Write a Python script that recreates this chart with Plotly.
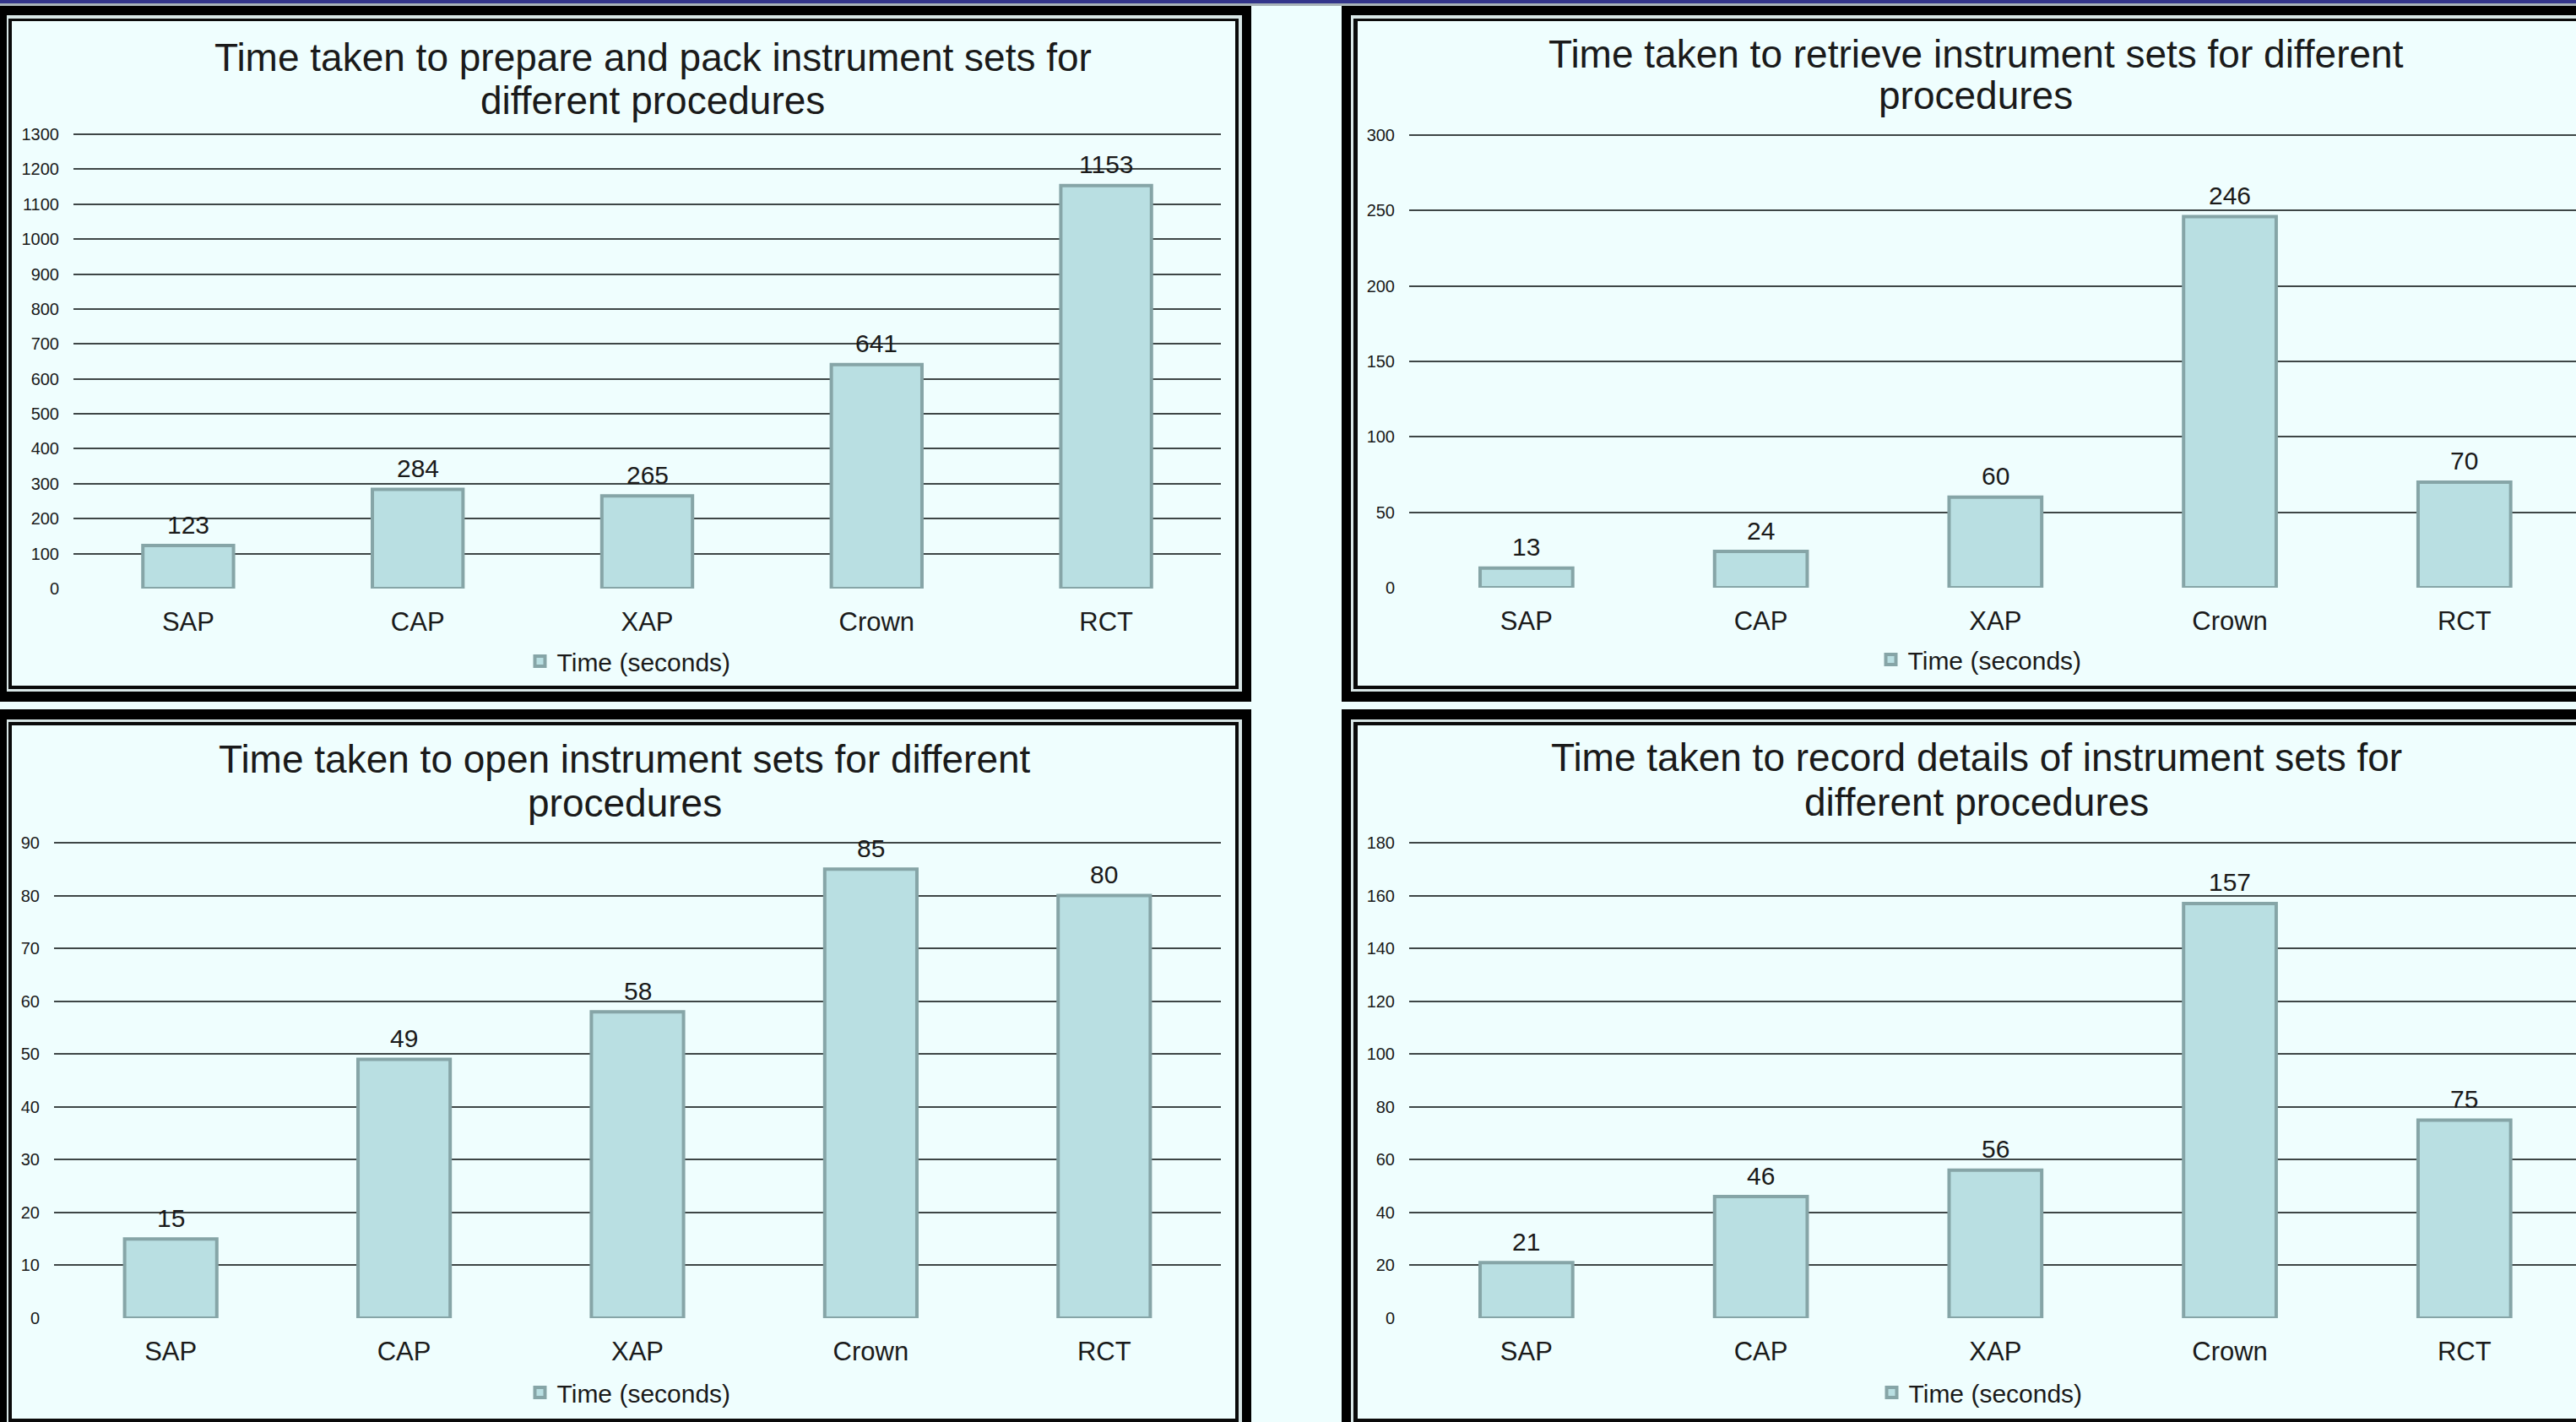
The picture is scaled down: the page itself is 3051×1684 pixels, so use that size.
import plotly.graph_objects as go

# ---------------- data ----------------
categories = ["SAP", "CAP", "XAP", "Crown", "RCT"]
prepare_pack = [123, 284, 265, 641, 1153]
retrieve = [13, 24, 60, 246, 70]
open_sets = [15, 49, 58, 85, 80]
record_details = [21, 46, 56, 157, 75]
series_name = "Time (seconds)"

titles = [
    ["Time taken to prepare and pack instrument sets for", "different procedures"],
    ["Time taken to retrieve instrument sets for different", "procedures"],
    ["Time taken to open instrument sets for different", "procedures"],
    ["Time taken to record details of instrument sets for", "different procedures"],
]
y_max = [1300, 300, 90, 180]
y_dtick = [100, 50, 10, 20]

# ---------------- layout constants (pixels) ----------------
W, H = 3051, 1684
FONT = "Liberation Sans, Arial, sans-serif"
BAR_FILL = "#b9dfe2"
BAR_EDGE = "#86a5a7"
GRID = "#3e4646"
BG = "#eefefe"
TOP_PAD = 4  # px of headroom so the top gridline is drawn


def px(x):
    return x / W


def py(y):
    return 1 - y / H


# plot areas: (left, right, top, bottom) in px
areas = [
    (87, 1446, 159, 697),
    (1669, 3051, 160, 696),
    (64, 1446, 998, 1561),
    (1669, 3051, 998, 1561),
]
x_ranges = [[-0.5, 4.5], [-0.5, 4.476], [-0.5, 4.5], [-0.5, 4.476]]
title_pos = [  # (center x, line1 y, line2 y)
    (773, 68, 119),
    (2340, 64, 113),
    (740, 899, 951),
    (2341, 897, 950),
]
legend_pos = [(745, 783), (2345, 781), (745, 1649), (2346, 1649)]

values = [prepare_pack, retrieve, open_sets, record_details]

fig = go.Figure()

layout = dict(
    template="none",
    width=W,
    height=H,
    autosize=False,
    margin=dict(l=0, r=0, t=0, b=0, pad=0),
    paper_bgcolor=BG,
    plot_bgcolor="rgba(0,0,0,0)",
    bargap=0.605,
    font=dict(family=FONT, color="#1a1a1a"),
    showlegend=True,
)

annotations = []
for i in range(4):
    l, r, t, b = areas[i]
    sfx = "" if i == 0 else str(i + 1)
    xa, ya = "x" + sfx, "y" + sfx
    leg = "legend" if i == 0 else f"legend{i + 1}"
    fig.add_trace(
        go.Bar(
            x=categories,
            y=values[i],
            name=series_name,
            xaxis=xa,
            yaxis=ya,
            marker=dict(color=BAR_FILL, line=dict(color=BAR_EDGE, width=4)),
            legend=leg,
            showlegend=True,
        )
    )
    # data labels above each bar, placed through the axes
    for c, v in zip(categories, values[i]):
        annotations.append(
            dict(
                x=c,
                y=v,
                xref=xa,
                yref=ya,
                xanchor="center",
                yanchor="middle",
                yshift=25,
                text=str(v),
                showarrow=False,
                font=dict(size=30, color="#1a1a1a", family=FONT),
            )
        )
    unit_px = (b - t) / y_max[i]
    layout["xaxis" + sfx] = dict(
        domain=[px(l), px(r)],
        anchor=ya,
        type="category",
        range=x_ranges[i],
        automargin=False,
        showgrid=False,
        showline=False,
        zeroline=False,
        ticks="",
        tickfont=dict(size=31, color="#1a1a1a", family=FONT),
        ticklabelstandoff=18,
    )
    layout["yaxis" + sfx] = dict(
        domain=[py(b), py(t - TOP_PAD)],
        anchor=xa,
        range=[0, y_max[i] + TOP_PAD / unit_px],
        dtick=y_dtick[i],
        tick0=0,
        automargin=False,
        showgrid=True,
        gridcolor=GRID,
        gridwidth=2,
        zeroline=False,
        showline=False,
        ticks="",
        tickfont=dict(size=20, color="#1a1a1a", family=FONT),
        ticklabelstandoff=16,
    )
    lx, ly = legend_pos[i]
    layout[leg] = dict(
        x=px(lx),
        y=py(ly),
        xanchor="center",
        yanchor="middle",
        orientation="h",
        bgcolor="rgba(0,0,0,0)",
        borderwidth=0,
        font=dict(size=30, color="#1a1a1a", family=FONT),
    )
    cx, y1, y2 = title_pos[i]
    for txt, yy in zip(titles[i], (y1, y2)):
        annotations.append(
            dict(
                x=px(cx),
                y=py(yy),
                xref="paper",
                yref="paper",
                xanchor="center",
                yanchor="middle",
                text=txt,
                showarrow=False,
                font=dict(size=46, color="#1a1a1a", family=FONT),
            )
        )

layout["annotations"] = annotations

# ---------------- panel frames ----------------
shapes = []


def rect(x0, y0, x1, y1, color):
    shapes.append(
        dict(
            type="rect",
            xref="paper",
            yref="paper",
            x0=px(x0),
            x1=px(x1),
            y0=py(y1),
            y1=py(y0),
            fillcolor=color,
            line=dict(width=0),
            layer="below",
        )
    )


# top strip
rect(0, 0, W, 4, "#33358a")
rect(0, 4, W, 7, "#a8b4b8")

frames = [
    # outer, light gap, black line, inner
    ((0, 7, 1482, 831), (8, 18, 1471, 819), (10, 22, 1467, 816), (14, 25, 1463, 812)),
    ((1589, 7, 3070, 831), (1600, 18, 3070, 819), (1603, 22, 3070, 816), (1608, 25, 3070, 812)),
    ((0, 840, 1482, 1700), (8, 852, 1471, 1700), (10, 855, 1467, 1700), (14, 859, 1463, 1680)),
    ((1589, 840, 3070, 1700), (1600, 852, 3070, 1700), (1603, 855, 3070, 1700), (1608, 859, 3070, 1680)),
]
for outer, gap, line, inner in frames:
    rect(*outer, "#000000")
    rect(*gap, "#d8e6e6")
    rect(*line, "#0a0a0a")
    rect(*inner, "#effefe")

layout["shapes"] = shapes
fig.update_layout(**layout)

fig.write_html(
    "out.html",
    config={"displayModeBar": False},
    post_script="document.body.style.margin='0';document.body.style.overflow='hidden';",
)
